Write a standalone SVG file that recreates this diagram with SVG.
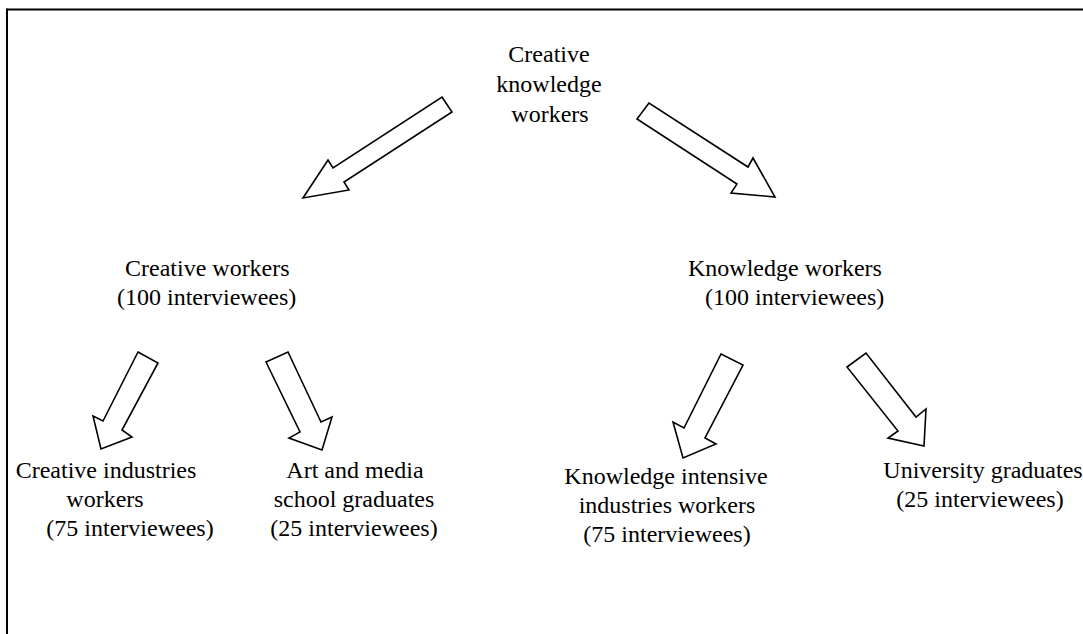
<svg xmlns="http://www.w3.org/2000/svg" width="1083" height="634" viewBox="0 0 1083 634">
<style>
.t{font-family:"Liberation Serif","Times New Roman",serif;font-size:24px;fill:#000}
.c{text-anchor:middle}
.a{fill:#fff;stroke:#000;stroke-width:1.6;stroke-linejoin:miter}
.f{stroke:#000;stroke-width:2;fill:none}
</style>
<rect width="1083" height="634" fill="#fff"/>
<g id="frame">
<line class="f" x1="7" y1="9.5" x2="1083" y2="9.5"/>
<line class="f" x1="7" y1="8.5" x2="7" y2="634"/>
</g>
<g id="connectors">
<polygon class="a" points="442,97 452,112 344,182 349,190 303,198 328,160 333,168"/>
<polygon class="a" points="649,103 637,119 737,184 731,193 775,197 753,158 748,167"/>
<polygon class="a" points="138,352 158,363 122,430 132,437 101,449 93,416 103,421"/>
<polygon class="a" points="266,362 288,352 321,422 332,417 322,450 289,438 300,432"/>
<polygon class="a" points="721,354 743,365 705,438 716,444 683,458 673,422 684,428"/>
<polygon class="a" points="847,367 866,353 916,417 926,409 924,446 888,438 898,431"/>
</g>
<g id="root">
<text class="t c" x="549" y="62">Creative</text>
<text class="t c" x="549" y="92">knowledge</text>
<text class="t c" x="550" y="122">workers</text>
</g>
<g id="creative-workers">
<text class="t" x="125" y="276">Creative workers</text>
<text class="t" x="117" y="305">(100 interviewees)</text>
</g>
<g id="knowledge-workers">
<text class="t" x="688" y="276">Knowledge workers</text>
<text class="t" x="705" y="305">(100 interviewees)</text>
</g>
<g id="creative-industries">
<text class="t c" x="106" y="478">Creative industries</text>
<text class="t c" x="105" y="507">workers</text>
<text class="t c" x="130" y="536">(75 interviewees)</text>
</g>
<g id="art-media">
<text class="t c" x="355" y="478">Art and media</text>
<text class="t c" x="354" y="507">school graduates</text>
<text class="t c" x="354" y="536">(25 interviewees)</text>
</g>
<g id="knowledge-intensive">
<text class="t c" x="666" y="484">Knowledge intensive</text>
<text class="t c" x="667" y="513">industries workers</text>
<text class="t c" x="667" y="542">(75 interviewees)</text>
</g>
<g id="university">
<text class="t c" x="983" y="478">University graduates</text>
<text class="t c" x="980" y="507">(25 interviewees)</text>
</g>
</svg>
